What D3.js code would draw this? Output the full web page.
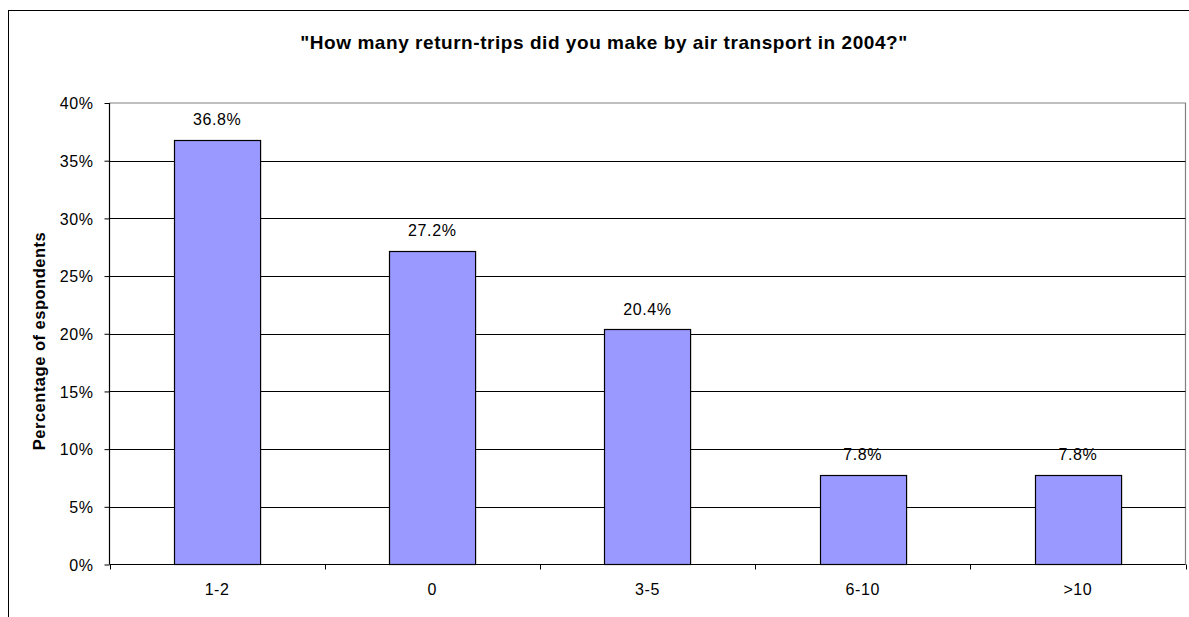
<!DOCTYPE html>
<html><head><meta charset="utf-8">
<script src="https://cdn.jsdelivr.net/npm/d3@7"></script>
<style>body{margin:0;background:#fff}svg{display:block}text{font-family:"Liberation Sans",Arial,sans-serif}</style>
</head><body><svg id="c" width="1189" height="617"></svg>
<script>
const categories = ["1-2","0","3-5","6-10",">10"];
const values = [36.8,27.2,20.4,7.8,7.8];
const yTicks = [0,5,10,15,20,25,30,35,40];
const title = "\"How many return-trips did you make by air transport in 2004?\"";
const yTitle = "Percentage of espondents";

const svg = d3.select("#c");
const L=109.5, R=1185.5, T=103, B=564.5;
const FS = 16;
// outer frame
svg.append("rect").attr("x",8.5).attr("y",10.5).attr("width",1300).attr("height",700)
  .attr("fill","#fff").attr("stroke","#000").attr("stroke-width",1);

const x = d3.scaleBand().domain(categories).range([L,R]).paddingInner(0.6).paddingOuter(0.3);
const y = d3.scaleLinear().domain([0,40]).range([B,T]);

// plot border top/right
svg.append("path").attr("d",`M${L},${T}H${R}V${B}`).attr("fill","none").attr("stroke","#808080").attr("stroke-width",1.2);
// gridlines
svg.append("g").selectAll("line").data(yTicks.filter(d=>d>0&&d<40)).join("line")
  .attr("x1",L).attr("x2",R).attr("y1",d=>Math.round(y(d))+0.5).attr("y2",d=>Math.round(y(d))+0.5)
  .attr("stroke","#000").attr("stroke-width",1);

// bars
svg.append("g").selectAll("rect").data(values).join("rect")
  .attr("x",(d,i)=>Math.round(x(categories[i]))+0.5).attr("y",d=>Math.round(y(d))+0.5)
  .attr("width",x.bandwidth()).attr("height",d=>B-Math.round(y(d))-0.5)
  .attr("fill","#9999ff").attr("stroke","#000").attr("stroke-width",1.2);

// value labels
svg.append("g").selectAll("text").data(values).join("text")
  .attr("x",(d,i)=>x(categories[i])+x.bandwidth()/2).attr("y",d=>y(d)-14.5)
  .attr("text-anchor","middle").attr("font-size",FS).attr("letter-spacing",0.6).attr("fill","#000")
  .text(d=>d.toFixed(1)+"%");

// y axis
const ya = svg.append("g").attr("transform",`translate(${L},0)`)
  .call(d3.axisLeft(y).tickValues(yTicks).tickFormat(d=>d+"%").tickSize(5).tickPadding(11));
ya.select(".domain").attr("stroke","#000").attr("stroke-width",1.2).attr("d",`M0,${T}V${B}`);
ya.selectAll(".tick line").attr("stroke","#000");
ya.selectAll("text").attr("font-size",FS).attr("letter-spacing",0.6).attr("fill","#000")
  .attr("font-family","Liberation Sans, Arial, sans-serif").attr("dy","0.36em");

// x axis
const xb = d3.scaleLinear().domain([0,categories.length]).range([L,R]);
const xa = svg.append("g").attr("transform",`translate(0,${B})`);
xa.append("line").attr("x1",L).attr("x2",R).attr("stroke","#000").attr("stroke-width",1.2);
xa.selectAll("line.t").data(d3.range(categories.length+1)).join("line").attr("class","t")
  .attr("x1",d=>Math.round(xb(d))+0.5).attr("x2",d=>Math.round(xb(d))+0.5).attr("y1",0).attr("y2",5)
  .attr("stroke","#000");
xa.selectAll("text").data(categories).join("text")
  .attr("x",d=>x(d)+x.bandwidth()/2).attr("y",30).attr("text-anchor","middle")
  .attr("font-size",FS).attr("letter-spacing",0.6).attr("fill","#000").text(d=>d);

// titles
svg.append("text").attr("x",604).attr("y",49).attr("text-anchor","middle")
  .attr("font-size",19).attr("font-weight","bold").attr("letter-spacing",0.55).text(title);
svg.append("text").attr("transform",`translate(44.5,341) rotate(-90)`)
  .attr("text-anchor","middle").attr("font-size",16.5).attr("font-weight","bold").attr("letter-spacing",0.5).text(yTitle);
</script></body></html>
